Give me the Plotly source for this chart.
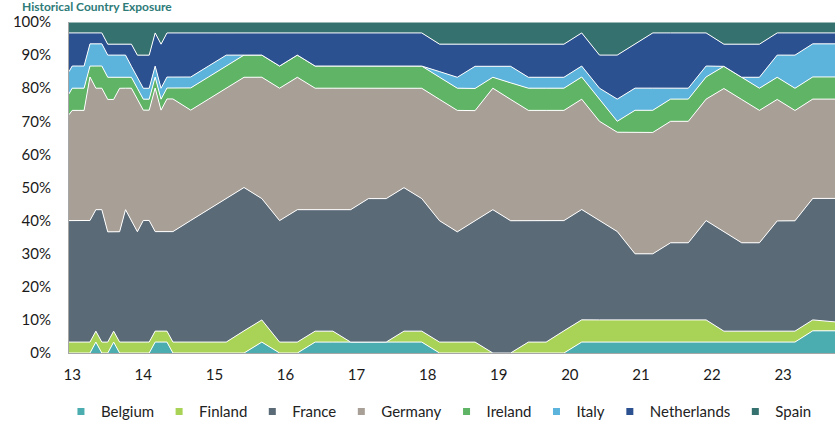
import plotly.graph_objects as go

# Time axis (decimal years, two-digit year labels)
dates = [12.955, 13.0, 13.083, 13.167, 13.25, 13.333, 13.417, 13.5, 13.583, 13.667,
         13.75, 13.833, 13.917, 14.0, 14.083, 14.167, 14.25, 14.333, 14.417, 14.667,
         14.917, 15.167, 15.417, 15.667, 15.917, 16.167, 16.417, 16.667, 16.917, 17.167,
         17.417, 17.667, 17.917, 18.167, 18.417, 18.667, 18.917, 19.167, 19.417, 19.667,
         19.917, 20.167, 20.417, 20.667, 20.917, 21.167, 21.417, 21.667, 21.917, 22.167,
         22.417, 22.667, 22.917, 23.167, 23.417, 23.73]

belgium = [0, 0, 0, 0, 0, 3.3, 0, 0, 3.3, 0,
           0, 0, 0, 0, 0, 3.3, 3.3, 3.3, 0, 0,
           0, 0, 0, 3.3, 0, 0, 3.3, 3.3, 3.3, 3.3,
           3.3, 3.3, 3.3, 0, 0, 0, 0, 0, 0, 0,
           0, 3.3, 3.3, 3.3, 3.3, 3.3, 3.3, 3.3, 3.3, 3.3,
           3.3, 3.3, 3.3, 3.3, 6.7, 6.7]
finland = [3.3, 3.3, 3.3, 3.3, 3.3, 3.3, 3.3, 3.3, 3.3, 3.3,
           3.3, 3.3, 3.3, 3.3, 3.3, 3.3, 3.3, 3.3, 3.3, 3.3,
           3.3, 3.3, 6.7, 6.7, 3.3, 3.3, 3.3, 3.3, 0, 0,
           0, 3.3, 3.3, 3.3, 3.3, 3.3, 0, 0, 3.3, 3.3,
           6.7, 6.7, 6.7, 6.7, 6.7, 6.7, 6.7, 6.7, 6.7, 3.3,
           3.3, 3.3, 3.3, 3.3, 3.3, 2.7]
france = [36.7, 36.7, 36.7, 36.7, 36.7, 36.7, 40, 33.3, 30, 33.3,
          40, 36.7, 33.3, 36.7, 36.7, 30, 30, 30, 33.3, 36.7,
          40, 43.3, 43.3, 36.7, 36.7, 40, 36.7, 36.7, 40, 43.3,
          43.3, 43.3, 40, 36.7, 33.3, 36.7, 43.3, 40, 36.7, 36.7,
          33.3, 33.3, 30, 26.7, 20, 20, 23.3, 23.3, 30, 30,
          26.7, 26.7, 33.3, 33.3, 36.7, 37.3]
germany = [32, 33.3, 33.3, 33.3, 43.3, 36.7, 36.7, 40, 40, 43.3,
           36.7, 40, 40, 33.3, 33.3, 43.3, 36.7, 40, 40, 33.3,
           33.3, 33.3, 33.3, 36.7, 40, 40, 36.7, 36.7, 36.7, 33.3,
           33.3, 30, 33.3, 36.7, 36.7, 33.3, 36.7, 36.7, 33.3, 33.3,
           33.3, 33.3, 30, 30, 36.7, 36.7, 36.7, 36.7, 36.7, 43.3,
           43.3, 40, 36.7, 33.3, 30, 30]
ireland = [6.3, 6.7, 6.7, 6.7, 3.3, 6.7, 6.7, 6.7, 6.7, 3.3,
           3.3, 3.3, 3.3, 3.3, 3.3, 3.3, 3.3, 3.3, 3.3, 6.7,
           6.7, 6.7, 6.7, 6.7, 6.7, 6.7, 6.7, 6.7, 6.7, 6.7,
           6.7, 6.7, 6.7, 6.7, 6.7, 6.7, 3.3, 5, 6.7, 6.7,
           6.7, 6.7, 6.7, 3.3, 6.7, 6.7, 6.7, 6.7, 6.7, 6.7,
           6.7, 6.7, 6.7, 6.7, 6.7, 6.7]
italy = [6.7, 6.7, 6.7, 6.7, 6.7, 6.7, 6.7, 6.7, 6.7, 6.7,
         6.7, 3.3, 3.3, 3.3, 3.3, 3.3, 3.3, 3.3, 3.3, 3.3,
         3.3, 3.3, 0, 0, 0, 0, 0, 0, 0, 0,
         0, 0, 0, 1.7, 3.3, 6.7, 3.3, 5, 3.3, 3.3,
         3.3, 3.3, 3.3, 6.7, 6.7, 6.7, 3.3, 3.3, 3.3, 0,
         0, 3.3, 6.7, 10, 10, 10]
netherlands = [11.7, 10, 10, 10, 3.3, 3.3, 3.3, 3.3, 3.3, 3.3,
               3.3, 6.7, 6.7, 10, 10, 10, 13.3, 13.3, 13.3, 13.3,
               10, 6.7, 6.7, 6.7, 10, 6.7, 10, 10, 10, 10,
               10, 10, 10, 8.3, 10, 6.7, 6.7, 6.7, 10, 10,
               10, 10, 10, 13.3, 13.3, 16.7, 16.7, 16.7, 10, 6.7,
               10, 10, 6.7, 6.7, 3.3, 3.3]
spain = [3.3, 3.3, 3.3, 3.3, 3.3, 3.3, 3.3, 6.7, 6.7, 6.7,
         6.7, 6.7, 10, 10, 10, 3.3, 6.7, 3.3, 3.3, 3.3,
         3.3, 3.3, 3.3, 3.3, 3.3, 3.3, 3.3, 3.3, 3.3, 3.3,
         3.3, 3.3, 3.3, 6.7, 6.7, 6.7, 6.7, 6.7, 6.7, 6.7,
         6.7, 3.3, 10, 10, 6.7, 3.3, 3.3, 3.3, 3.3, 6.7,
         6.7, 6.7, 3.3, 3.3, 3.3, 3.3]

series_names = ["Belgium", "Finland", "France", "Germany", "Ireland", "Italy", "Netherlands", "Spain"]
series_values = [belgium, finland, france, germany, ireland, italy, netherlands, spain]
series_colors = ["#4CADB1", "#A9D356", "#5A6A77", "#A89F97", "#5FB465", "#5CB4DD", "#2B5191", "#35716F"]

x_tick_vals = [13, 14, 15, 16, 17, 18, 19, 20, 21, 22, 23]
x_tick_text = ["13", "14", "15", "16", "17", "18", "19", "20", "21", "22", "23"]
y_tick_vals = [0, 10, 20, 30, 40, 50, 60, 70, 80, 90, 100]
y_tick_text = ["0%", "10%", "20%", "30%", "40%", "50%", "60%", "70%", "80%", "90%", "100%"]

FONT = "Lato, 'Noto Sans', sans-serif"

fig = go.Figure()
for name, vals, col in zip(series_names, series_values, series_colors):
    fig.add_trace(go.Scatter(
        x=dates, y=vals, name=name, mode="lines",
        stackgroup="one", groupnorm="percent",
        line=dict(color="white", width=1),
        fillcolor=col, showlegend=False, hoverinfo="skip",
    ))
for name, col in zip(series_names, series_colors):
    # legend entry with small square swatch
    fig.add_trace(go.Scatter(
        x=[None], y=[None], name=name, mode="markers",
        marker=dict(symbol="square", size=7, color=col),
        showlegend=True,
    ))

fig.update_layout(
    width=835, height=421,
    margin=dict(l=69, r=0, t=22, b=68),
    paper_bgcolor="white", plot_bgcolor="white",
    font=dict(family=FONT, color="#1a1a1a"),
    showlegend=True,
    legend=dict(
        orientation="h", xref="container", yref="container",
        x=0.073, y=0.022, xanchor="left", yanchor="middle",
        font=dict(size=15, color="#222222"), traceorder="normal",
        itemwidth=30, bgcolor="rgba(0,0,0,0)",
    ),
    annotations=[dict(
        text="<b>Historical Country Exposure</b>",
        xref="paper", yref="paper", x=-0.064, y=1,
        xanchor="left", yanchor="top", yshift=25,
        showarrow=False, font=dict(size=12, color="#2E7B78", family=FONT),
    )],
)

fig.update_xaxes(
    range=[12.955, 23.73], tickvals=x_tick_vals, ticktext=x_tick_text,
    showgrid=False, zeroline=False, showline=True, linecolor="#A6A6A6", linewidth=1,
    ticks="", tickfont=dict(size=15, color="#1a1a1a"), ticklabelstandoff=8,
    automargin=False,
)
fig.update_yaxes(
    range=[0, 100], tickvals=y_tick_vals, ticktext=y_tick_text,
    showgrid=False, zeroline=False, showline=True, linecolor="#A6A6A6", linewidth=1,
    ticks="", tickfont=dict(size=15, color="#1a1a1a"), ticklabelstandoff=14,
    automargin=False,
)

fig.write_html(
    "out.html",
    config={"displayModeBar": False},
    post_script="document.body.style.margin='0';document.body.style.padding='0';",
)
